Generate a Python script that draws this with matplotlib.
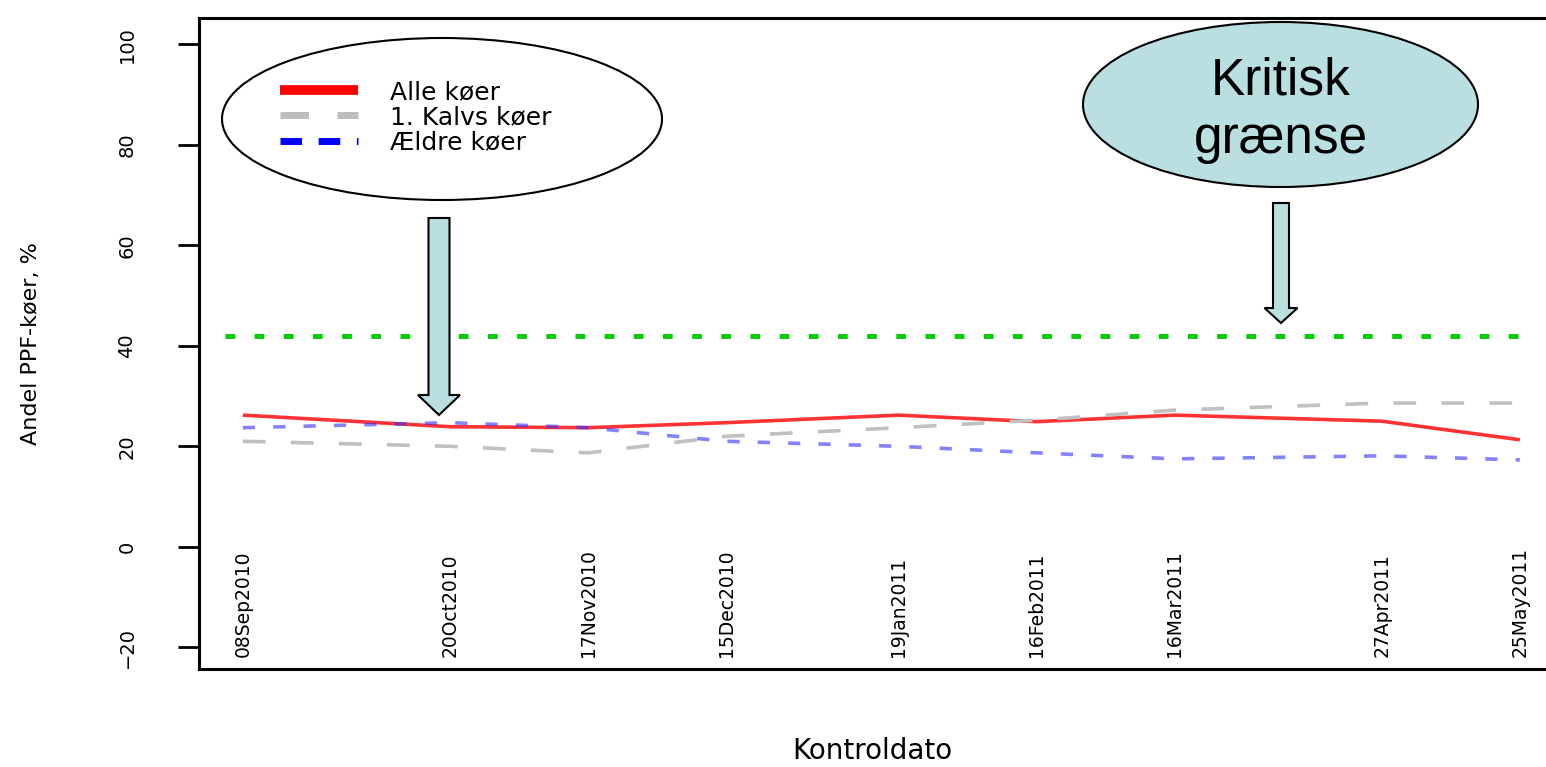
import matplotlib
matplotlib.use("Agg")
import matplotlib.pyplot as plt
from matplotlib.patches import Ellipse, Polygon
from matplotlib.lines import Line2D
import pandas as pd

# Data
datoer = ["2010-09-08", "2010-10-20", "2010-11-17", "2010-12-15", "2011-01-19",
          "2011-02-16", "2011-03-16", "2011-04-27", "2011-05-25"]
dato_labels = ["08Sep2010", "20Oct2010", "17Nov2010", "15Dec2010", "19Jan2011",
               "16Feb2011", "16Mar2011", "27Apr2011", "25May2011"]
alle_koeer = [26.2, 23.9, 23.7, 24.7, 26.2, 24.9, 26.2, 25.0, 21.3]
kalvs1_koeer = [21.0, 20.0, 18.7, 22.0, 23.7, 25.2, 27.2, 28.6, 28.6]
aeldre_koeer = [23.7, 24.7, 23.7, 21.0, 20.0, 18.7, 17.5, 18.1, 17.3]
kritisk_graense = 42
y_ticks = [-20, 0, 20, 40, 60, 80, 100]

x = pd.to_datetime(datoer)
dag = pd.Timedelta(days=1)

W, H = 1546, 767
fig = plt.figure(figsize=(W / 100, H / 100), dpi=100)
ax = fig.add_axes([199 / W, 1 - 669 / H, 1 - 199 / W, (669 - 18) / H])

ax.plot(x, alle_koeer, color="red", lw=2.6, alpha=0.8, solid_capstyle="butt")
ax.plot(x, kalvs1_koeer, color="#c0c0c0", lw=2.6, dashes=(6.3, 7))
ax.plot(x, aeldre_koeer, color="#3030ff", lw=2.6, alpha=0.6, dashes=(3.4, 5))
ax.hlines(kritisk_graense, x[0] - 3.7 * dag, x[0] + 262 * dag,
          color="#00cc00", lw=3.5, linestyles=[(0, (2, 4))])

ax.set_xlim(x[0] - 8.9 * dag, x[0] + 264.3 * dag)
ax.set_ylim(-24.3, 105.2)
ax.set_xticks([])
ax.set_yticks(y_ticks)
ax.tick_params(axis="y", length=15, width=2, pad=30, labelsize=14, labelrotation=90)
for lbl in ax.get_yticklabels():
    lbl.set_va("center")
for s in ["left", "top", "bottom"]:
    ax.spines[s].set_linewidth(2.2)
ax.spines["right"].set_visible(False)

# date labels written inside the plot, rotated
for xi, txt in zip(x, dato_labels):
    ax.text(xi, -22, txt, rotation=90, ha="center", va="bottom", fontsize=13.5)

ax.set_xlabel("Kontroldato", fontsize=20, labelpad=49)
ax.set_ylabel("Andel PPF-køer, %", fontsize=16, va="center")
ax.yaxis.set_label_coords(-0.125, 0.5)


def fx(px):
    return px / W


def fy(py):
    return 1 - py / H


# ellipses
fig.add_artist(Ellipse((fx(442), fy(119)), 440 / W, 162 / H, transform=fig.transFigure,
                       facecolor="white", edgecolor="black", lw=1.5, zorder=5))
fig.add_artist(Ellipse((fx(1280.5), fy(104.5)), 395 / W, 165 / H, transform=fig.transFigure,
                       facecolor="#b9dfe1", edgecolor="black", lw=1.5, zorder=5))
fig.text(fx(1281), fy(110), "Kritisk\ngrænse", fontsize=37, ha="center", va="center",
         family="Liberation Sans", linespacing=1.25, zorder=6)


def pil(cx, top, base, tip, shaft_w, head_w):
    pts = [(cx - shaft_w / 2, top), (cx + shaft_w / 2, top), (cx + shaft_w / 2, base),
           (cx + head_w / 2, base), (cx, tip), (cx - head_w / 2, base), (cx - shaft_w / 2, base)]
    return Polygon([(fx(a), fy(b)) for a, b in pts], closed=True, transform=fig.transFigure,
                   facecolor="#b9dfe1", edgecolor="black", lw=1.5, zorder=5)


fig.add_artist(pil(439, 218, 395, 415, 21, 42))
fig.add_artist(pil(1281, 203, 308, 323, 16, 33))

# legend inside the left ellipse
handles = [Line2D([], [], color="red", lw=7, solid_capstyle="butt"),
           Line2D([], [], color="#bdbdbd", lw=5, dashes=(4.1, 4.1)),
           Line2D([], [], color="blue", lw=5, dashes=(3.1, 2.4))]
leg = fig.legend(handles, ["Alle køer", "1. Kalvs køer", "Ældre køer"],
                 loc="center left", bbox_to_anchor=(fx(280), fy(117)),
                 bbox_transform=fig.transFigure, frameon=False, fontsize=18,
                 handlelength=3.1, handletextpad=1.3, labelspacing=0.05, borderpad=0,
                 borderaxespad=0)
leg.set_zorder(7)

fig.savefig("out.png", dpi=100)
